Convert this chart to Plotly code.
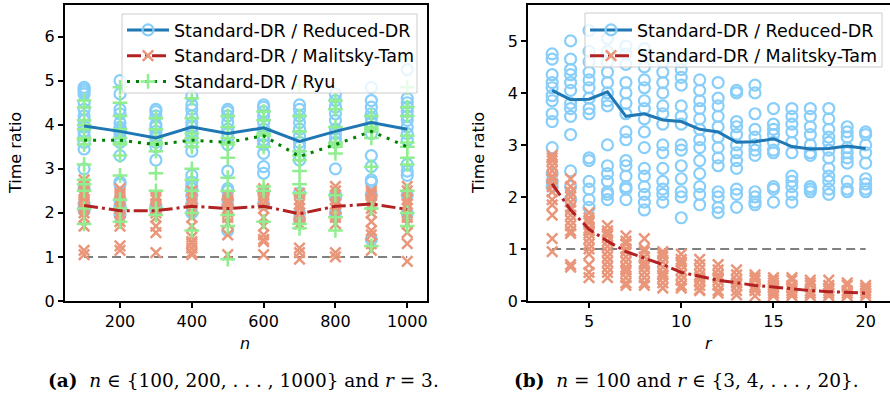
import plotly.graph_objects as go

# ---------------- data: panel (a) ----------------
n_vals = [100, 200, 300, 400, 500, 600, 700, 800, 900, 1000]
n_ticks = [200, 400, 600, 800, 1000]
y_ticks_a = [0, 1, 2, 3, 4, 5, 6]

reduced_a = [
    [4.85, 4.8, 4.75, 4.7, 4.5, 4.35, 4.2, 4.1, 3.95, 3.85, 3.75, 3.6, 3.45, 3.0, 2.55, 2.2, 2.1, 2.05],
    [5.0, 4.7, 4.35, 4.25, 4.05, 3.95, 3.9, 3.85, 3.8, 3.7, 3.6, 3.3, 2.7, 2.65, 2.3, 2.15, 2.1, 1.95],
    [4.35, 4.3, 4.2, 4.0, 3.95, 3.85, 3.75, 3.7, 3.6, 3.5, 3.2, 2.15, 2.1, 2.05],
    [4.65, 4.45, 4.35, 4.2, 4.05, 3.95, 3.85, 3.75, 3.6, 3.4, 2.85, 2.7, 2.6, 2.55, 2.4, 2.2, 2.0],
    [4.35, 4.3, 4.2, 4.05, 3.9, 3.8, 3.7, 3.55, 2.95, 2.55, 2.5, 2.3, 2.15, 1.6],
    [4.45, 4.4, 4.3, 4.2, 4.05, 3.9, 3.75, 3.65, 3.55, 3.35, 3.05, 2.9, 2.45, 2.2],
    [4.45, 4.35, 4.2, 4.05, 3.9, 3.75, 3.6, 3.5, 3.3, 3.2, 2.45, 2.0, 1.85],
    [4.7, 4.55, 4.4, 4.25, 4.1, 3.9, 3.8, 3.7, 3.6, 3.0, 2.4, 2.35, 2.0],
    [4.85, 4.55, 4.4, 4.25, 4.15, 4.05, 3.95, 3.8, 3.3, 3.05, 2.75, 2.7, 2.4, 1.4],
    [5.25, 4.6, 4.5, 4.4, 4.3, 4.2, 4.1, 3.95, 3.8, 3.65, 3.1, 2.95, 2.85, 2.4, 2.0],
]
malitsky_a = [
    [2.75, 2.65, 2.6, 2.5, 2.45, 2.4, 2.3, 2.25, 2.2, 2.15, 2.1, 2.0, 1.9, 1.7, 1.15, 1.05],
    [2.55, 2.45, 2.4, 2.3, 2.2, 2.1, 2.0, 1.9, 1.8, 1.7, 1.25, 1.15],
    [2.4, 2.35, 2.3, 2.2, 2.1, 2.0, 1.9, 1.7, 1.55, 1.1],
    [2.5, 2.4, 2.3, 2.2, 2.1, 1.9, 1.7, 1.45, 1.35, 1.3, 1.2, 1.1, 1.05],
    [2.4, 2.3, 2.25, 2.2, 2.1, 2.0, 1.9, 1.75, 1.5, 1.05],
    [2.55, 2.45, 2.4, 2.3, 2.2, 2.1, 1.9, 1.7, 1.5, 1.4, 1.35, 1.05],
    [2.45, 2.3, 2.2, 2.1, 2.0, 1.9, 1.75, 1.2, 1.1, 0.95],
    [2.6, 2.5, 2.4, 2.3, 2.2, 2.1, 2.0, 1.9, 1.75, 1.1, 1.0],
    [2.5, 2.45, 2.4, 2.3, 2.2, 2.1, 2.0, 1.8, 1.6, 1.5, 1.3, 1.15],
    [2.6, 2.5, 2.4, 2.3, 2.2, 2.1, 2.0, 1.9, 1.75, 1.55, 1.3, 0.9],
]
ryu_a = [
    [4.55, 4.4, 4.1, 4.0, 3.9, 3.7, 3.65, 3.55, 3.1, 2.75, 2.65, 2.5, 2.1, 1.75],
    [4.85, 4.5, 4.2, 3.9, 3.7, 3.6, 3.55, 3.3, 2.85, 2.3, 2.1, 1.8],
    [4.15, 3.9, 3.7, 3.6, 3.55, 3.4, 2.9, 2.5, 2.1, 1.95],
    [4.6, 4.15, 3.8, 3.7, 3.6, 3.5, 3.0, 2.75, 2.5, 2.0, 1.6],
    [4.2, 3.95, 3.7, 3.6, 3.55, 3.25, 2.8, 2.5, 1.95, 1.7, 0.95],
    [4.3, 4.1, 3.9, 3.8, 3.75, 3.5, 2.6, 2.5, 1.8],
    [4.9, 4.2, 3.85, 3.4, 3.3, 3.2, 2.95, 2.65, 2.45, 1.75, 1.65],
    [4.55, 4.35, 3.95, 3.6, 3.55, 3.5, 3.35, 2.4, 1.9, 1.6],
    [4.2, 3.95, 3.9, 3.85, 3.7, 3.05, 2.1, 1.25],
    [4.85, 4.4, 4.2, 3.75, 3.6, 3.5, 3.25, 3.1, 2.5, 2.0, 1.7],
]
reduced_a_mean = [3.97, 3.85, 3.70, 3.95, 3.80, 3.93, 3.62, 3.85, 4.05, 3.90]
malitsky_a_mean = [2.17, 2.05, 2.05, 2.15, 2.10, 2.15, 1.98, 2.15, 2.20, 2.08]
ryu_a_mean = [3.65, 3.65, 3.55, 3.65, 3.60, 3.75, 3.28, 3.55, 3.85, 3.50]

# ---------------- data: panel (b) ----------------
r_vals = [3, 4, 5, 6, 7, 8, 9, 10, 11, 12, 13, 14, 15, 16, 17, 18, 19, 20]
r_ticks = [5, 10, 15, 20]
y_ticks_b = [0, 1, 2, 3, 4, 5]

reduced_b = [
    [4.75, 4.65, 4.35, 4.2, 4.1, 3.95, 3.85, 3.6, 3.45, 2.95, 2.45, 2.3, 2.2],
    [5.0, 4.65, 4.45, 4.35, 4.2, 4.05, 3.8, 3.7, 3.55, 3.2, 2.5, 2.2, 1.95],
    [5.2, 4.8, 4.6, 4.4, 4.25, 4.1, 3.9, 3.7, 3.6, 2.75, 2.7, 2.3, 2.15, 1.95, 1.8],
    [5.05, 4.8, 4.6, 4.4, 4.2, 4.0, 3.85, 3.75, 3.0, 2.6, 2.45, 2.3, 2.1, 2.05, 1.95],
    [4.9, 4.75, 4.55, 4.2, 4.0, 3.8, 3.6, 3.25, 3.1, 2.7, 2.6, 2.4, 2.2, 2.15, 1.95],
    [4.85, 4.5, 4.25, 4.1, 3.85, 3.7, 3.5, 3.25, 2.95, 2.55, 2.4, 2.2, 2.05, 1.9, 1.75],
    [4.6, 4.4, 4.2, 4.0, 3.75, 3.6, 3.4, 3.0, 2.85, 2.55, 2.3, 2.15, 2.05, 1.9],
    [4.6, 4.45, 4.3, 4.15, 3.75, 3.55, 3.4, 3.0, 2.9, 2.6, 2.35, 2.1, 2.0, 1.6],
    [4.25, 4.05, 3.85, 3.7, 3.5, 3.3, 3.1, 2.95, 2.7, 2.45, 2.2, 2.05, 1.85],
    [4.2, 3.9, 3.75, 3.55, 3.35, 3.15, 2.95, 2.75, 2.6, 2.1, 2.0, 1.8, 1.7],
    [4.05, 4.0, 3.45, 3.35, 3.2, 3.0, 2.85, 2.7, 2.55, 2.15, 2.05, 1.8],
    [4.15, 4.0, 3.6, 3.3, 3.15, 3.0, 2.9, 2.8, 2.1, 2.0, 1.9, 1.85],
    [3.7, 3.4, 3.3, 3.2, 3.05, 2.9, 2.85, 2.2, 2.15, 1.9],
    [3.7, 3.55, 3.4, 3.25, 3.05, 2.85, 2.4, 2.3, 2.2, 2.05, 1.9],
    [3.7, 3.55, 3.35, 3.2, 3.0, 2.85, 2.8, 2.2, 2.15, 2.1],
    [3.7, 3.5, 3.3, 3.15, 3.05, 2.9, 2.75, 2.55, 2.4, 2.3, 2.15, 2.05],
    [3.35, 3.25, 3.15, 2.95, 2.85, 2.75, 2.65, 2.3, 2.15, 2.1],
    [3.25, 3.2, 3.0, 2.85, 2.65, 2.35, 2.25, 2.15, 2.1],
]
malitsky_b = [
    [2.8, 2.75, 2.7, 2.6, 2.5, 2.4, 2.35, 2.25, 2.2, 2.1, 1.95, 1.85, 1.65, 1.2, 0.95],
    [2.35, 2.2, 2.1, 2.0, 1.9, 1.8, 1.75, 1.65, 1.55, 1.45, 1.35, 1.3, 0.7, 0.65],
    [1.7, 1.6, 1.55, 1.5, 1.4, 1.35, 1.3, 1.2, 1.1, 1.0, 0.9, 0.7, 0.55, 0.45],
    [1.45, 1.35, 1.3, 1.25, 1.15, 1.05, 0.95, 0.85, 0.75, 0.65, 0.55, 0.45],
    [1.25, 1.15, 1.1, 1.0, 0.95, 0.85, 0.75, 0.65, 0.6, 0.55, 0.45, 0.35, 0.3],
    [1.2, 1.0, 0.95, 0.85, 0.75, 0.7, 0.65, 0.55, 0.45, 0.35, 0.3],
    [0.95, 0.9, 0.85, 0.75, 0.65, 0.55, 0.5, 0.45, 0.35, 0.25],
    [0.9, 0.8, 0.75, 0.7, 0.6, 0.5, 0.4, 0.3, 0.25],
    [0.8, 0.7, 0.6, 0.5, 0.45, 0.4, 0.3, 0.22, 0.2],
    [0.7, 0.6, 0.5, 0.45, 0.4, 0.3, 0.2, 0.15],
    [0.6, 0.5, 0.4, 0.35, 0.3, 0.2, 0.12],
    [0.5, 0.45, 0.4, 0.3, 0.25, 0.2, 0.1],
    [0.45, 0.4, 0.35, 0.3, 0.25, 0.2, 0.15, 0.1],
    [0.45, 0.4, 0.3, 0.25, 0.2, 0.15, 0.1],
    [0.4, 0.35, 0.3, 0.2, 0.15, 0.1],
    [0.4, 0.3, 0.25, 0.2, 0.15, 0.1],
    [0.35, 0.3, 0.2, 0.15, 0.1],
    [0.3, 0.25, 0.2, 0.15, 0.1],
]
reduced_b_mean = [4.05, 3.87, 3.88, 4.02, 3.55, 3.60, 3.48, 3.45, 3.30, 3.25,
                  3.05, 3.06, 3.12, 2.97, 2.92, 2.93, 2.98, 2.93]
malitsky_b_mean = [2.25, 1.75, 1.38, 1.15, 0.95, 0.83, 0.70, 0.55, 0.47, 0.40,
                   0.35, 0.30, 0.27, 0.23, 0.20, 0.18, 0.17, 0.15]

label_reduced = "Standard-DR / Reduced-DR"
label_malitsky = "Standard-DR / Malitsky-Tam"
label_ryu = "Standard-DR / Ryu"

# ---------------- style ----------------
C_CIRCLE = "#87CEFA"
C_X = "#E9967A"
C_PLUS = "#90EE90"
C_BLUE = "#1f77b4"
C_RED = "#B22222"
C_GREEN = "#008000"
FONT = "DejaVu Sans"

fig = go.Figure()


def flat(xv, groups):
    xs, ys = [], []
    for x, g in zip(xv, groups):
        xs += [x] * len(g)
        ys += list(g)
    return xs, ys


MARK = {
    "circle": dict(symbol="circle-open", size=11, color=C_CIRCLE, line=dict(color=C_CIRCLE, width=2.2)),
    "x": dict(symbol="x-thin", size=10.5, color=C_X, line=dict(color=C_X, width=2.5)),
    "plus": dict(symbol="cross-thin", size=10.5, color=C_PLUS, line=dict(color=C_PLUS, width=2.5)),
}


def add_scatter(xv, groups, kind, xa, ya):
    xs, ys = flat(xv, groups)
    fig.add_trace(go.Scatter(x=xs, y=ys, mode="markers", marker=MARK[kind],
                             showlegend=False, xaxis=xa, yaxis=ya, hoverinfo="skip"))


def add_line(xv, yv, color, dash, xa, ya, width=3):
    fig.add_trace(go.Scatter(x=xv, y=yv, mode="lines", line=dict(color=color, width=width, dash=dash),
                             showlegend=False, xaxis=xa, yaxis=ya))


def add_legend(name, kind, color, dash, legend):
    fig.add_trace(go.Scatter(x=[None], y=[None], mode="lines+markers", name=name,
                             marker=MARK[kind], line=dict(color=color, width=3, dash=dash),
                             legend=legend, xaxis="x", yaxis="y"))


DASHDOT = "14px,4px,3px,4px"
DOT = "3px,6px"
GRAYDASH = "9px,5px"

# panel (a)
add_line([n_vals[0], n_vals[-1]], [1, 1], "gray", GRAYDASH, "x", "y", width=2)
add_scatter(n_vals, reduced_a, "circle", "x", "y")
add_scatter(n_vals, malitsky_a, "x", "x", "y")
add_scatter(n_vals, ryu_a, "plus", "x", "y")
add_line(n_vals, reduced_a_mean, C_BLUE, "solid", "x", "y")
add_line(n_vals, malitsky_a_mean, C_RED, DASHDOT, "x", "y")
add_line(n_vals, ryu_a_mean, C_GREEN, DOT, "x", "y")

# panel (b)
add_line([r_vals[0], r_vals[-1]], [1, 1], "gray", GRAYDASH, "x2", "y2", width=2)
add_scatter(r_vals, reduced_b, "circle", "x2", "y2")
add_scatter(r_vals, malitsky_b, "x", "x2", "y2")
add_line(r_vals, reduced_b_mean, C_BLUE, "solid", "x2", "y2")
add_line(r_vals, malitsky_b_mean, C_RED, DASHDOT, "x2", "y2")

add_legend(label_reduced, "circle", C_BLUE, "solid", "legend")
add_legend(label_malitsky, "x", C_RED, DASHDOT, "legend")
add_legend(label_ryu, "plus", C_GREEN, DOT, "legend")
add_legend(label_reduced, "circle", C_BLUE, "solid", "legend2")
add_legend(label_malitsky, "x", C_RED, DASHDOT, "legend2")

W, H = 890, 403
ydom = [1 - 301 / H, 1 - 4.5 / H]
axis_common = dict(showline=True, linecolor="black", linewidth=1.5, ticks="outside",
                   ticklen=5, tickwidth=1.5, tickcolor="black", showgrid=False, zeroline=False,
                   automargin=False, tickfont=dict(family=FONT, size=16, color="black"))

legend_common = dict(bgcolor="rgba(0,0,0,0)", borderwidth=0,
                     font=dict(family=FONT, size=17.5, color="black"),
                     xanchor="left", yanchor="top", itemwidth=42, tracegroupgap=0)

title_font = dict(family=FONT, size=16, color="black")


def label(text, x, y, angle=0, font=title_font):
    return dict(text=text, x=x / W, y=1 - y / H, xref="paper", yref="paper", showarrow=False,
                xanchor="center", yanchor="middle", textangle=angle, font=font)


def frame(x0, y0, x1, y1):
    return dict(type="rect", xref="paper", yref="paper", layer="above",
                x0=x0 / W, x1=x1 / W, y0=1 - y1 / H, y1=1 - y0 / H,
                fillcolor="rgba(255,255,255,0.8)", line=dict(color="#cccccc", width=1))


cap_font = dict(family="DejaVu Serif", size=18.5, color="black")

fig.update_layout(
    width=W, height=H, margin=dict(l=0, r=0, t=0, b=0),
    paper_bgcolor="white", plot_bgcolor="white",
    xaxis=dict(domain=[64.7 / W, 427 / W], range=[46, 1055], tickvals=n_ticks, mirror=True,
               anchor="y", **axis_common),
    yaxis=dict(domain=ydom, range=[0, 6.73], tickvals=y_ticks_a, mirror=True, anchor="x",
               **axis_common),
    xaxis2=dict(domain=[528 / W, 1.0], range=[1.69, 21.32], tickvals=r_ticks, mirror=True,
                anchor="y2", **axis_common),
    yaxis2=dict(domain=ydom, range=[0, 5.70], tickvals=y_ticks_b, mirror=False, anchor="x2",
                **axis_common),
    legend=dict(x=122 / W, y=1 - 12 / H, **legend_common),
    legend2=dict(x=585 / W, y=1 - 12 / H, **legend_common),
    shapes=[frame(122, 14, 417, 93), frame(585, 13, 882, 67)],
    annotations=[
        label("<i>n</i>", 245, 343),
        label("<i>r</i>", 709, 343),
        label("Time ratio", 16, 153, -90),
        label("Time ratio", 479, 153, -90),
        label("<b>(a)</b>  <i>n</i> ∈ {100, 200, . . . , 1000} and <i>r</i> = 3.", 243, 380, font=cap_font),
        label("<b>(b)</b>  <i>n</i> = 100 and <i>r</i> ∈ {3, 4, . . . , 20}.", 686, 380, font=cap_font),
    ],
)

fig.write_html("out.html")
